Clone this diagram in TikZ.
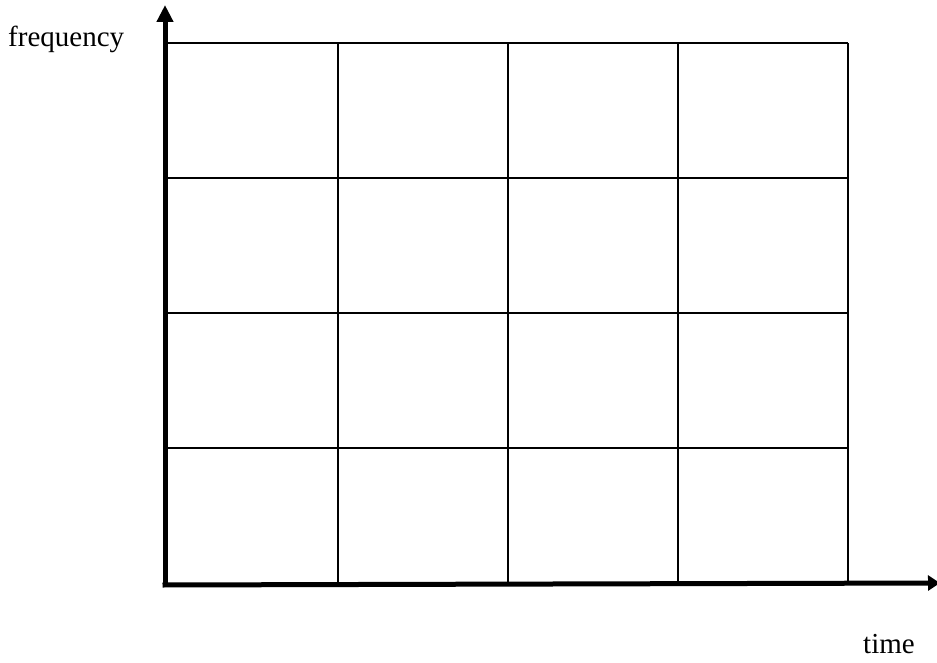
\documentclass[tikz,border=0pt]{standalone}
\usepackage{fontspec}
\setmainfont{Liberation Serif}
\usetikzlibrary{arrows.meta}
\tikzset{
  axis/.style={line width=5pt},
  gridline/.style={line width=1.6pt},
  lbl/.style={inner sep=0pt, anchor=base west, font=\fontsize{29}{33}\selectfont}
}
\begin{document}
\begin{tikzpicture}[x=1pt,y=-1pt]
\useasboundingbox (0,0) rectangle (937,663);
% grid
\foreach \xx in {338,508,678,848} \draw[gridline] (\xx,43) -- (\xx,584);
\foreach \yy in {43,178,313,448} \draw[gridline] (165,\yy) -- (848,\yy);
% axes
\coordinate (O) at (165,585);
\coordinate (ytip) at (165,5);
\coordinate (xtip) at (940,583);
\draw[axis,-{Triangle[length=17pt,width=16pt]}] ([yshift=2.5pt]O) -- (ytip);
\draw[axis,-{Triangle[length=12pt,width=15pt]}] ([xshift=-2.5pt]O) -- (xtip);
% labels
\node[lbl] (freq) at (8,47) {frequency};
\node[lbl] (time) at (863,653) {time};
\end{tikzpicture}
\end{document}
